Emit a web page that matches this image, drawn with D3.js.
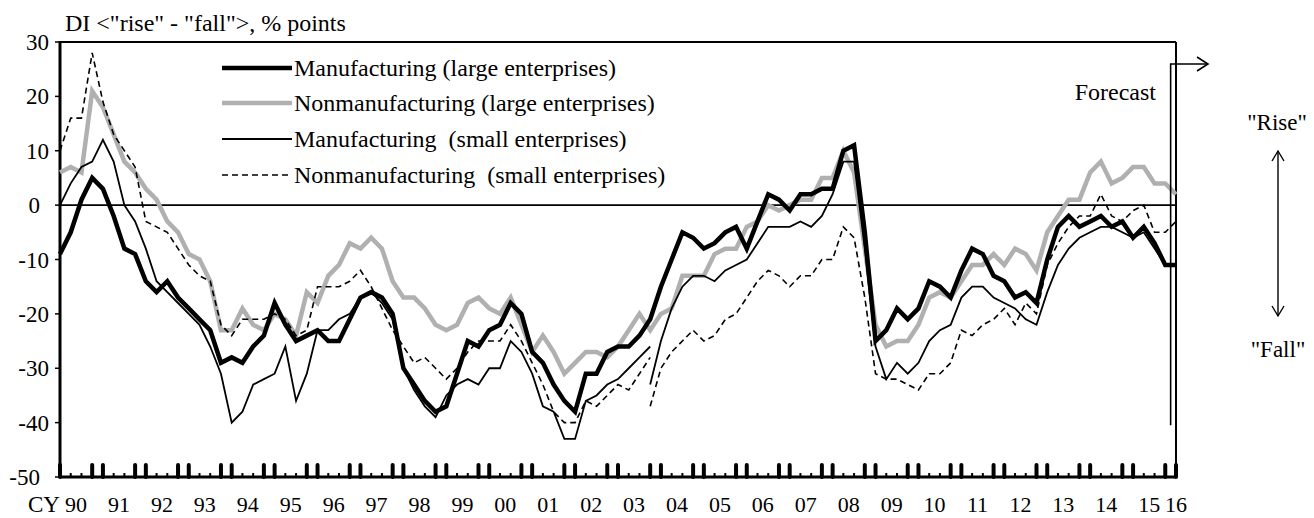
<!DOCTYPE html>
<html><head><meta charset="utf-8">
<script src="https://cdn.jsdelivr.net/npm/d3@7"></script>
<style>
body{margin:0;background:#fff}
svg{display:block}
</style>
</head><body>
<svg id="chart" width="1314" height="518"></svg>
<script>
// ---- data (quarterly, 1990Q1 .. 2016Q1 forecast) ----
const quarters = d3.range(105).map(i => (1990 + Math.floor(i / 4)) + "Q" + (i % 4 + 1));
const yearLabels = ["90","91","92","93","94","95","96","97","98","99","00","01","02","03","04","05","06","07","08","09","10","11","12","13","14","15","16"];
const yTicks = [30,20,10,0,-10,-20,-30,-40,-50];
const seriesNames = ["Manufacturing (large enterprises)","Nonmanufacturing (large enterprises)","Manufacturing  (small enterprises)","Nonmanufacturing  (small enterprises)"];

const mfgLarge = [-9,-5,1,5,3,-2,-8,-9,-14,-16,-14,-17,-19,-21,-23,-29,-28,-29,-26,-24,-18,-22,-25,-24,-23,-25,-25,-21,-17,-16,-17,-20,-30,-33,-36,-38,-37,-31,-25,-26,-23,-22,-18,-20,-27,-29,-33,-36,-38,-31,-31,-27,-26,-26,-24,-21,-15,-10,-5,-6,-8,-7,-5,-4,-8,-3,2,1,-1,2,2,3,3,10,11,-5,-25,-23,-19,-21,-19,-14,-15,-17,-12,-8,-9,-13,-14,-17,-16,-18,-10,-4,-2,-4,-3,-2,-4,-3,-6,-4,-7,-11,-11];
const nonmfgLarge = [6,7,6,21,18,13,8,6,3,1,-3,-5,-9,-10,-14,-23,-23,-19,-22,-23,-20,-21,-24,-16,-18,-13,-11,-7,-8,-6,-8,-14,-17,-17,-19,-22,-23,-22,-18,-17,-19,-20,-17,-22,-27,-24,-27,-31,-29,-27,-27,-28,-26,-23,-20,-23,-20,-19,-13,-13,-13,-9,-8,-8,-4,-3,0,-1,0,1,1,5,5,10,6,-8,-22,-26,-25,-25,-22,-17,-16,-17,-14,-11,-11,-9,-11,-8,-9,-12,-5,-2,1,1,6,8,4,5,7,7,4,4,2];
// small enterprises: old basis 1990Q1..2003Q4, new basis 2003Q4..2016Q1
const mfgSmallOld = [0,4,7,8,12,8,0,-3,-8,-14,-16,-18,-20,-22,-26,-31,-40,-38,-33,-32,-31,-26,-36,-31,-23,-23,-21,-20,-17,-16,-18,-21,-30,-34,-37,-39,-35,-33,-32,-33,-30,-30,-25,-27,-31,-37,-38,-43,-43,-36,-35,-33,-32,-30,-28,-26];
const mfgSmallNew = [-33,-25,-19,-15,-13,-13,-14,-12,-11,-10,-7,-4,-4,-4,-3,-4,-2,2,8,8,-8,-26,-32,-29,-31,-29,-25,-23,-22,-17,-15,-15,-17,-18,-19,-21,-22,-16,-11,-8,-6,-5,-4,-4,-5,-6,-5,-8,-11,-11];
const nonmfgSmallOld = [10,16,16,28,19,13,10,7,-3,-4,-5,-8,-11,-13,-14,-22,-24,-21,-21,-21,-20,-21,-24,-23,-15,-15,-15,-14,-12,-15,-19,-23,-26,-29,-28,-30,-32,-30,-27,-25,-25,-25,-22,-25,-29,-33,-38,-40,-40,-36,-37,-35,-33,-34,-31,-28];
const nonmfgSmallNew = [-37,-30,-27,-25,-23,-25,-24,-21,-20,-17,-14,-12,-13,-15,-13,-13,-10,-10,-4,-6,-17,-31,-32,-32,-33,-34,-31,-31,-29,-23,-24,-22,-21,-19,-22,-18,-20,-11,-7,-4,-2,-2,2,-2,-3,-1,0,-5,-5,-3];
const newBasisStart = 55; // index of 2003Q4

// ---- layout ----
const FONT = "'Liberation Serif', 'Times New Roman', Tinos, 'DejaVu Serif', 'Noto Serif', serif";
const svg = d3.select("#chart").attr("font-family", FONT);
const L = 60, R = 1176, T = 42, B = 477;
const x = d3.scaleLinear().domain([0, quarters.length - 1]).range([L, R]);
const y = d3.scaleLinear().domain([-50, 30]).range([B, T]);
const txt = () => svg.append("text").attr("font-family", FONT).attr("fill", "#000");

// header
txt().attr("x", 65).attr("y", 31).attr("font-size", 24).text('DI <"rise" - "fall">, % points');

// frame top + right
svg.append("line").attr("x1", L).attr("x2", R).attr("y1", T).attr("y2", T).attr("stroke", "#000").attr("stroke-width", 2);
svg.append("line").attr("x1", R).attr("x2", R).attr("y1", T).attr("y2", B).attr("stroke", "#000").attr("stroke-width", 2);
// zero line
svg.append("line").attr("x1", L).attr("x2", R).attr("y1", y(0)).attr("y2", y(0)).attr("stroke", "#000").attr("stroke-width", 1.6);

// y axis
svg.append("line").attr("x1", L).attr("x2", L).attr("y1", T - 1).attr("y2", B).attr("stroke", "#000").attr("stroke-width", 3);
yTicks.forEach(v => {
  svg.append("line").attr("x1", L - 5).attr("x2", L).attr("y1", y(v)).attr("y2", y(v)).attr("stroke", "#000").attr("stroke-width", 1.5);
  const shiftLeft = (v === 0 || v === -50) ? 9 : 0;
  txt().attr("x", L - 11 - shiftLeft).attr("y", y(v)).attr("dy", "0.35em").attr("text-anchor", "end").attr("font-size", 23).text(v);
});

// x axis with quarterly ticks
svg.append("line").attr("x1", L).attr("x2", R).attr("y1", B).attr("y2", B).attr("stroke", "#000").attr("stroke-width", 3);
quarters.forEach((q, i) => {
  const tall = (i % 4 === 0 || i % 4 === 3);
  svg.append("line").attr("x1", x(i)).attr("x2", x(i)).attr("y1", B).attr("y2", tall ? B - 12 : B - 4)
    .attr("stroke", "#000").attr("stroke-width", tall ? 4 : 2).attr("stroke-linecap", tall ? "round" : "butt");
});
txt().attr("x", 28).attr("y", 512).attr("font-size", 23).text("CY");
yearLabels.forEach((lab, k) => {
  const pos = k < yearLabels.length - 1 ? 4 * k + 1.5 : quarters.length - 1;
  txt().attr("x", x(pos)).attr("y", 512).attr("text-anchor", "middle").attr("font-size", 22).text(lab);
});

// series
const line = start => d3.line().x((d, i) => x(start + i)).y(d => y(d));
const styles = [
  {stroke: "#000", w: 4.5, dash: null},
  {stroke: "#b0b0b0", w: 4.5, dash: null},
  {stroke: "#000", w: 1.8, dash: null},
  {stroke: "#000", w: 1.6, dash: "6,4"}
];
const seriesData = [
  [[mfgLarge, 0]],
  [[nonmfgLarge, 0]],
  [[mfgSmallOld, 0], [mfgSmallNew, newBasisStart]],
  [[nonmfgSmallOld, 0], [nonmfgSmallNew, newBasisStart]]
];
const order = [1, 0, 2, 3];
order.forEach(s => {
  seriesData[s].forEach(([arr, start]) => {
    svg.append("path").attr("d", line(start)(arr)).attr("fill", "none")
      .attr("stroke", styles[s].stroke).attr("stroke-width", styles[s].w)
      .attr("stroke-dasharray", styles[s].dash).attr("stroke-linejoin", "miter");
  });
});

// legend
const legY = [68, 103, 139, 175];
seriesNames.forEach((n, s) => {
  svg.append("line").attr("x1", 222).attr("x2", 292).attr("y1", legY[s]).attr("y2", legY[s])
    .attr("stroke", styles[s].stroke).attr("stroke-width", styles[s].w).attr("stroke-dasharray", styles[s].dash);
  txt().attr("x", 294).attr("y", legY[s]).attr("dy", "0.35em").attr("font-size", 24).style("white-space", "pre").text(n);
});

// forecast marker
const fx = (x(quarters.length - 2) + x(quarters.length - 1)) / 2;
svg.append("path").attr("d", `M${fx},${y(-40.5)}V64H1208`).attr("fill", "none").attr("stroke", "#000").attr("stroke-width", 1.6);
svg.append("path").attr("d", "M1197,57L1208,64L1197,71").attr("fill", "none").attr("stroke", "#000").attr("stroke-width", 1.6);
txt().attr("x", 1156).attr("y", 100).attr("text-anchor", "end").attr("font-size", 24).text("Forecast");

// rise / fall
txt().attr("x", 1277).attr("y", 130).attr("text-anchor", "middle").attr("font-size", 23).text('"Rise"');
txt().attr("x", 1278).attr("y", 357).attr("text-anchor", "middle").attr("font-size", 23).text('"Fall"');
svg.append("line").attr("x1", 1278).attr("x2", 1278).attr("y1", 151).attr("y2", 316).attr("stroke", "#000").attr("stroke-width", 1.4);
svg.append("path").attr("d", "M1272,161L1278,151L1284,161").attr("fill", "none").attr("stroke", "#000").attr("stroke-width", 1.4);
svg.append("path").attr("d", "M1272,306L1278,316L1284,306").attr("fill", "none").attr("stroke", "#000").attr("stroke-width", 1.4);
</script>
</body></html>
